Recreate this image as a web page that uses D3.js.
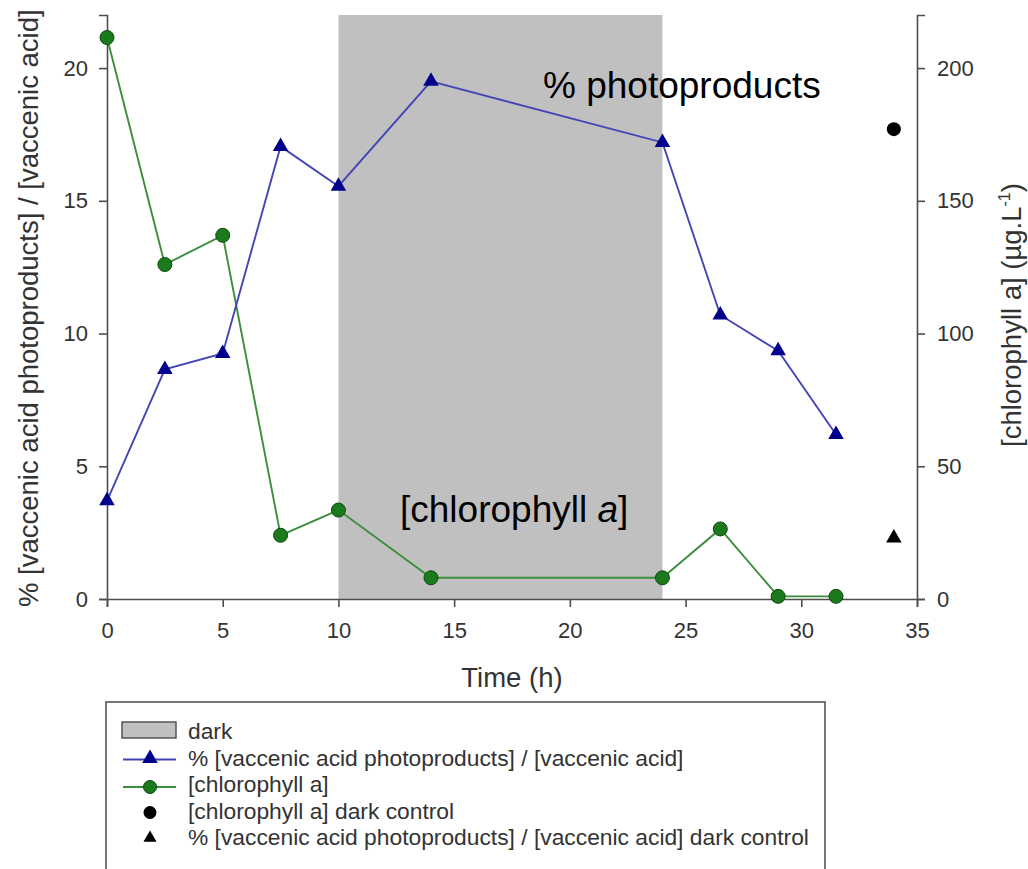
<!DOCTYPE html>
<html>
<head>
<meta charset="utf-8">
<script src="https://cdn.jsdelivr.net/npm/d3@7"></script>
<style>
    body { margin: 0; background: #fff; }
    svg { display: block; font-family: "Liberation Sans", Arial, sans-serif; }
    .axis path, .axis line { stroke: #4d4d4d; stroke-width: 1.6; }
    .axis text { fill: #333; font-size: 22px; font-family: "Liberation Sans", Arial, sans-serif; }
    .axisLabel { fill: #333; font-size: 27.5px; }
    .legend text { fill: #333; font-size: 22.8px; }
</style>
</head>
<body>
<div id="chart"></div>
<script>
    // values
    var timeH = [0, 2.5, 5, 7.5, 10, 14, 24, 26.5, 29, 31.5];
    var photoPct = [3.7, 8.65, 9.25, 17.05, 15.55, 19.5, 17.2, 10.7, 9.35, 6.2];
    var chlA = [211.5, 126, 137, 24, 33.5, 8, 8, 26.4, 1, 1];
    var darkPeriod = [10, 24];
    var darkControlT = [34];
    var darkControlChl = [177];
    var darkControlPct = [2.3];
    var xTicks = [0, 5, 10, 15, 20, 25, 30, 35];
    var yLeftTicks = [0, 5, 10, 15, 20];
    var yRightTicks = [0, 50, 100, 150, 200];
    var legendLabels = [
        "dark",
        "% [vaccenic acid photoproducts] / [vaccenic acid]",
        "[chlorophyll a]",
        "[chlorophyll a] dark control",
        "% [vaccenic acid photoproducts] / [vaccenic acid] dark control"
    ];

    var width = 1028, height = 869;
    var plot = { left: 107, right: 917, top: 15, bottom: 599 };

    var svg = d3.select("#chart").append("svg")
        .attr("width", width)
        .attr("height", height);

    var x = d3.scaleLinear().domain([0, 35]).range([plot.left, plot.right]);
    var yLeft = d3.scaleLinear().domain([0, 22]).range([plot.bottom, plot.top]);
    var yRight = d3.scaleLinear().domain([0, 220]).range([plot.bottom, plot.top]);

    var blueLine = "#4545b5", blueMark = "#00008c";
    var greenLine = "#3d8d3d", greenMark = "#1b7a1b", greenEdge = "#0c4a0c";
    var triangle = d3.symbol().type(d3.symbolTriangle).size(105);

    // dark period
    svg.append("rect")
        .attr("x", x(darkPeriod[0]))
        .attr("y", yLeft(22))
        .attr("width", x(darkPeriod[1]) - x(darkPeriod[0]))
        .attr("height", yLeft(0) - yLeft(22))
        .attr("fill", "#c0c0c0");

    // axes
    svg.append("g").attr("class", "axis")
        .attr("transform", "translate(0," + plot.bottom + ")")
        .call(d3.axisBottom(x).tickValues(xTicks).tickSizeOuter(0).tickSize(8).tickPadding(15));
    svg.append("g").attr("class", "axis")
        .attr("transform", "translate(" + plot.left + ",0)")
        .call(d3.axisLeft(yLeft).tickValues(yLeftTicks).tickSizeOuter(0).tickSize(8).tickPadding(11));
    svg.append("g").attr("class", "axis")
        .attr("transform", "translate(" + plot.right + ",0)")
        .call(d3.axisRight(yRight).tickValues(yRightTicks).tickSizeOuter(0).tickSize(8).tickPadding(12));

    svg.append("text").attr("class", "axisLabel")
        .attr("x", (plot.left + plot.right) / 2)
        .attr("y", 687)
        .attr("text-anchor", "middle")
        .text("Time (h)");

    svg.append("text").attr("class", "axisLabel")
        .attr("transform", "translate(38,607) rotate(-90)")
        .text("% [vaccenic acid photoproducts] / [vaccenic acid]");

    var rightLabel = svg.append("text").attr("class", "axisLabel")
        .attr("transform", "translate(1021,447) rotate(-90)");
    rightLabel.append("tspan").text("[chlorophyll a] (\u00b5g.L");
    rightLabel.append("tspan").attr("dy", -11).attr("font-size", "16px").text("-1");
    rightLabel.append("tspan").attr("dy", 11).text(")");

    // chlorophyll series (right axis)
    var chlData = timeH.map(function(t, i) { return [t, chlA[i]]; });
    svg.append("path")
        .datum(chlData)
        .attr("fill", "none")
        .attr("stroke", greenLine)
        .attr("stroke-width", 1.9)
        .attr("d", d3.line().x(function(d) { return x(d[0]); }).y(function(d) { return yRight(d[1]); }));
    svg.append("g").selectAll("circle")
        .data(chlData)
        .enter().append("circle")
        .attr("cx", function(d) { return x(d[0]); })
        .attr("cy", function(d) { return yRight(d[1]); })
        .attr("r", 7)
        .attr("fill", greenMark)
        .attr("stroke", greenEdge)
        .attr("stroke-width", 1);

    // photoproduct series (left axis)
    var pctData = timeH.map(function(t, i) { return [t, photoPct[i]]; });
    svg.append("path")
        .datum(pctData)
        .attr("fill", "none")
        .attr("stroke", blueLine)
        .attr("stroke-width", 1.9)
        .attr("d", d3.line().x(function(d) { return x(d[0]); }).y(function(d) { return yLeft(d[1]); }));
    svg.append("g").selectAll("path")
        .data(pctData)
        .enter().append("path")
        .attr("d", triangle)
        .attr("transform", function(d) { return "translate(" + x(d[0]) + "," + yLeft(d[1]) + ")"; })
        .attr("fill", blueMark);

    // dark controls
    svg.selectAll("circle.control")
        .data(darkControlT)
        .enter().append("circle")
        .attr("class", "control")
        .attr("cx", function(d) { return x(d); })
        .attr("cy", function(d, i) { return yRight(darkControlChl[i]); })
        .attr("r", 7)
        .attr("fill", "#000");
    svg.selectAll("path.control")
        .data(darkControlT)
        .enter().append("path")
        .attr("class", "control")
        .attr("d", triangle)
        .attr("transform", function(d, i) { return "translate(" + x(d) + "," + yLeft(darkControlPct[i]) + ")"; })
        .attr("fill", "#000");

    // annotations
    svg.append("text")
        .attr("x", 543).attr("y", 98)
        .attr("font-size", "37px")
        .attr("fill", "#000")
        .text("% photoproducts");
    var chlNote = svg.append("text")
        .attr("x", 400).attr("y", 522)
        .attr("font-size", "37px")
        .attr("fill", "#000");
    chlNote.append("tspan").text("[chlorophyll ");
    chlNote.append("tspan").attr("font-style", "italic").text("a");
    chlNote.append("tspan").text("]");

    // legend
    var legend = svg.append("g").attr("class", "legend");
    legend.append("rect")
        .attr("x", 106).attr("y", 702)
        .attr("width", 719).attr("height", 200)
        .attr("fill", "#fff")
        .attr("stroke", "#555")
        .attr("stroke-width", 1.6);

    var rowY = function(i) { return 739 + i * 26.5; };
    var symX = 150;

    legend.append("rect")
        .attr("x", 122).attr("y", rowY(0) - 17)
        .attr("width", 54).attr("height", 16)
        .attr("fill", "#c0c0c0")
        .attr("stroke", "#555")
        .attr("stroke-width", 1.5);

    legend.append("line")
        .attr("x1", 123).attr("x2", 176)
        .attr("y1", rowY(1) - 6).attr("y2", rowY(1) - 6)
        .attr("stroke", blueLine).attr("stroke-width", 1.8);
    legend.append("path")
        .attr("d", triangle)
        .attr("transform", "translate(" + symX + "," + (rowY(1) - 7) + ")")
        .attr("fill", blueMark);

    legend.append("line")
        .attr("x1", 123).attr("x2", 176)
        .attr("y1", rowY(2) - 5).attr("y2", rowY(2) - 5)
        .attr("stroke", greenLine).attr("stroke-width", 1.8);
    legend.append("circle")
        .attr("cx", symX).attr("cy", rowY(2) - 5).attr("r", 6.5)
        .attr("fill", greenMark).attr("stroke", greenEdge);

    legend.append("circle")
        .attr("cx", symX).attr("cy", rowY(3) - 6).attr("r", 6.5)
        .attr("fill", "#000");
    legend.append("path")
        .attr("d", d3.symbol().type(d3.symbolTriangle).size(75))
        .attr("transform", "translate(" + symX + "," + (rowY(4) - 7) + ")")
        .attr("fill", "#000");

    legend.selectAll("text")
        .data(legendLabels)
        .enter().append("text")
        .attr("x", 188)
        .attr("y", function(d, i) { return rowY(i); })
        .text(function(d) { return d; });
</script>
</body>
</html>
